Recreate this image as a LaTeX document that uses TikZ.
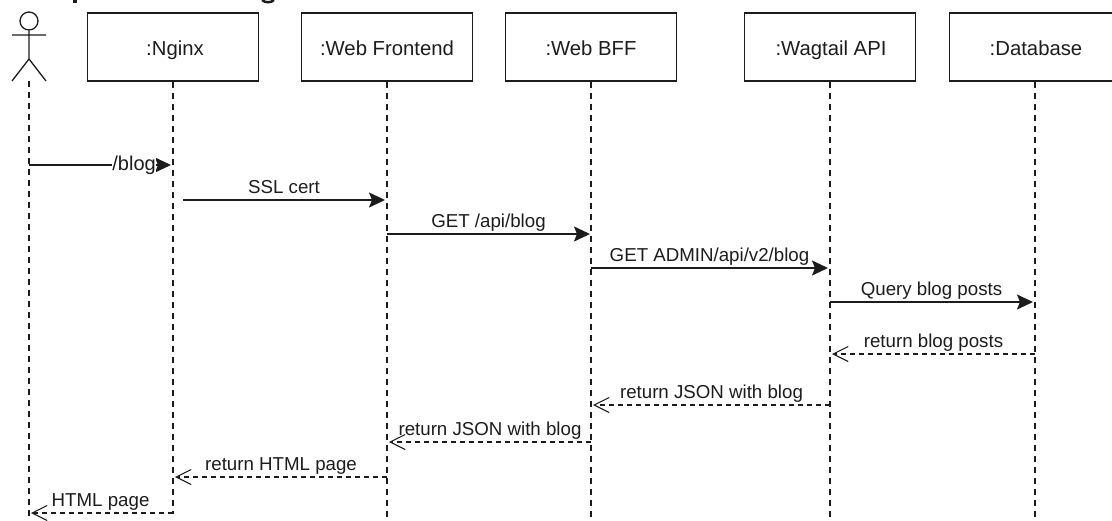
\documentclass[tikz,border=0pt]{standalone}
\usepackage{fontspec}
\setmainfont{Liberation Sans}
\usetikzlibrary{arrows.meta}

\definecolor{inkgray}{HTML}{1c1c1c}

\begin{document}
\begin{tikzpicture}[x=1pt,y=-1pt,line width=1.8pt,inkgray,
	lifebox/.style={draw,rectangle,minimum width=171pt,minimum height=68pt,inner sep=0pt,text=inkgray,
		font=\fontsize{20.3}{24}\selectfont},
	boxtext/.style={text=inkgray,font=\fontsize{20.3}{24}\selectfont,text height=15pt,text depth=5pt,inner sep=0pt},
	lifeline/.style={dash pattern=on 6pt off 5pt,line width=1.5pt},
	call/.style={-{Stealth[length=16pt,width=15pt,inset=3pt]},line width=1.7pt},
	reply/.style={-{Straight Barb[length=15pt,width=15pt,line width=1.1pt]},dash pattern=on 5pt off 4pt,line width=1.2pt},
	msg/.style={above,inner sep=1.5pt,text height=14pt,text depth=4pt,text=inkgray,font=\fontsize{18.7}{22}\selectfont}]

	\useasboundingbox (0,0) rectangle (1112,520);
	\clip (0,0) rectangle (1112,520);

	% bottom of the cut-off heading
	\fill (73,0) rectangle (77,3);
	\draw[line width=2.5pt] (262,0) .. controls (265,3) and (271,3) .. (274,0);

	% The actor
	\node [circle,draw,minimum size=18pt,inner sep=0pt,line width=1.3pt] at (29,21) (head) {};
	\coordinate (neck) at (29,59);
	\coordinate (foot) at (29,81);
	\coordinate (armL) at (12,35);
	\coordinate (armR) at (46,35);
	\coordinate (legL) at (12,81);
	\coordinate (legR) at (46,81);
	\draw[line width=1.3pt] (head) -- (neck) (armL) -- (armR) (legL) -- (neck) -- (legR);

	% The lifelines
	\node [lifebox] at (173,47) (nginx) {};
	\node [lifebox] at (387,47) (front) {};
	\node [lifebox] at (591,47) (bff) {};
	\node [lifebox] at (830,47) (api) {};
	\node [lifebox] at (1035,47) (db) {};

	\node [boxtext] at (175,50) (nginxText) {:Nginx};
	\node [boxtext] at (387,50) (frontText) {:Web Frontend};
	\node [boxtext] at (591,50) (bffText) {:Web BFF};
	\node [boxtext] at (831,50) (apiText) {:Wagtail API};
	\node [boxtext] at (1036,50) (dbText) {:Database};

	\coordinate (footEnd) at (29,520);
	\coordinate (nginxEnd) at (173,514);
	\coordinate (frontEnd) at (387,520);
	\coordinate (bffEnd) at (591,520);
	\coordinate (apiEnd) at (830,520);
	\coordinate (dbEnd) at (1035,520);

	\draw[lifeline] (foot) -- (footEnd);
	\draw[lifeline] (nginx) -- (nginxEnd);
	\draw[lifeline] (front) -- (frontEnd);
	\draw[lifeline] (bff) -- (bffEnd);
	\draw[lifeline] (api) -- (apiEnd);
	\draw[lifeline] (db) -- (dbEnd);

	% Message ends
	\coordinate (a1) at (29,165);
	\coordinate (n1) at (171,165);
	\coordinate (n2) at (183,200);
	\coordinate (f2) at (385,200);
	\coordinate (f3) at (387,234);
	\coordinate (b3) at (590,234);
	\coordinate (b4) at (591,268);
	\coordinate (w4) at (828,268);
	\coordinate (w5) at (830,302);
	\coordinate (d5) at (1033,302);
	\coordinate (d6) at (1035,354);
	\coordinate (w6) at (832,354);
	\coordinate (w7) at (830,405);
	\coordinate (b7) at (593,405);
	\coordinate (b8) at (591,442);
	\coordinate (f8) at (389,442);
	\coordinate (f9) at (387,477);
	\coordinate (n9) at (175,477);
	\coordinate (n10) at (173,513);
	\coordinate (a10) at (31,513);

	% Calls
	\path[call]
	(a1) edge node [pos=0.74,fill=white,inner sep=0pt,text=inkgray,font=\fontsize{20}{24}\selectfont] {/blog} (n1)
	(n2) edge node [msg] {SSL cert} (f2)
	(f3) edge node [msg] {GET /api/blog} (b3)
	(b4) edge node [msg] {GET ADMIN/api/v2/blog} (w4)
	(w5) edge node [msg] {Query blog posts} (d5);

	% Replies
	\path[reply]
	(d6) edge node [msg] {return blog posts} (w6)
	(w7) edge node [msg] {return JSON with blog} (b7)
	(b8) edge node [msg] {return JSON with blog} (f8)
	(f9) edge node [msg] {return HTML page} (n9)
	(n10) edge node [msg,pos=0.51] {HTML page} (a10);

\end{tikzpicture}
\end{document}
